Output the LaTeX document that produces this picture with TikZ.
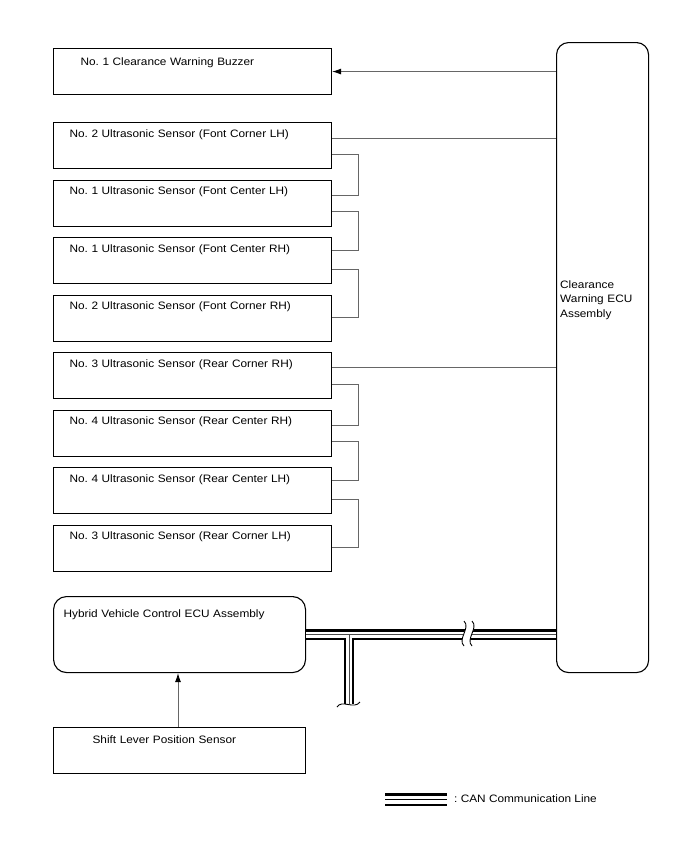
\documentclass[tikz,border=0pt]{standalone}
\usepackage{fontspec}
\setmainfont[FakeStretch=1.1]{Liberation Sans}
\usetikzlibrary{arrows.meta}
\begin{document}
\frenchspacing
\begin{tikzpicture}[x=1pt,y=-1pt,
  font=\fontsize{10.75}{14.5}\selectfont,
  box/.style={draw=black, line width=1.1pt, inner ysep=0pt, align=left, anchor=north west},
  sensor/.style={box, inner xsep=16pt, text width=246pt, text height=14.7pt, text depth=31.3pt},
  conn/.style={draw=black!60, line width=0.9pt},
  arr/.style={conn, -{Latex[length=9pt,width=6pt,color=black]}},
  brk/.style={draw=black, line width=0.9pt},
]
\useasboundingbox (0,0) rectangle (688,852);

% ECU
\node[draw=black, line width=1.1pt, rounded corners=12pt, minimum width=92pt, minimum height=630pt, inner sep=0pt, anchor=north west] (ecu) at (556,42) {};
\node[anchor=base west, inner sep=0pt, text width=84pt, align=left] (ecut) at (560,288) {Clearance\\Warning ECU\\Assembly};

% buzzer
\node[box, inner xsep=27pt, text width=224pt, text height=17pt, text depth=29pt] (buz) at (53,48) {No. 1 Clearance Warning Buzzer};

% sensors
\node[sensor] (b2) at (53,122)   {No. 2 Ultrasonic Sensor (Font Corner LH)};
\node[sensor] (b3) at (53,179.5) {No. 1 Ultrasonic Sensor (Font Center LH)};
\node[sensor] (b4) at (53,237)   {No. 1 Ultrasonic Sensor (Font Center RH)};
\node[sensor] (b5) at (53,294.5) {No. 2 Ultrasonic Sensor (Font Corner RH)};
\node[sensor] (b6) at (53,352)   {No. 3 Ultrasonic Sensor (Rear Corner RH)};
\node[sensor] (b7) at (53,409.5) {No. 4 Ultrasonic Sensor (Rear Center RH)};
\node[sensor] (b8) at (53,467)   {No. 4 Ultrasonic Sensor (Rear Center LH)};
\node[sensor] (b9) at (53,524.5) {No. 3 Ultrasonic Sensor (Rear Corner LH)};

% hybrid + shift
\node[box, rounded corners=13pt, inner xsep=10pt, text width=232pt, text height=21pt, text depth=55pt] (hyb) at (53,596) {Hybrid Vehicle Control ECU Assembly};
\node[box, inner xsep=39pt, text width=174pt, text height=16pt, text depth=30pt] (shift) at (53,727) {Shift Lever Position Sensor};

% connectors
\draw[arr] (buz.east -| ecu.west) -- (buz.east);
\coordinate (p2) at ([yshift=-16pt]b2.north east);
\coordinate (p6) at ([yshift=-15pt]b6.north east);
\draw[conn] (p2) -- (p2 -| ecu.west);
\draw[conn] (p6) -- (p6 -| ecu.west);

\draw[conn] ([yshift=-32pt]b2.north east) -- ++(26,0) |- ([yshift=-16pt]b3.north east);
\draw[conn] ([yshift=-32pt]b3.north east) -- ++(26,0) |- ([yshift=-13pt]b4.north east);
\draw[conn] ([yshift=-32pt]b4.north east) -- ++(26,0) |- ([yshift=-23pt]b5.north east);
\draw[conn] ([yshift=-32pt]b6.north east) -- ++(26,0) |- ([yshift=-16pt]b7.north east);
\draw[conn] ([yshift=-32pt]b7.north east) -- ++(26,0) |- ([yshift=-13pt]b8.north east);
\draw[conn] ([yshift=-32pt]b8.north east) -- ++(26,0) |- ([yshift=-23pt]b9.north east);

\draw[arr] ([xshift=125pt]shift.north west) -- ([xshift=125pt]hyb.south west);

% CAN line
\coordinate (tj) at ([xshift=43pt]hyb.east);
\coordinate (cend) at ([yshift=-69pt]tj);
\foreach \w/\c in {10.5pt/black, 6pt/white, 1pt/black!70} {
  \draw[line width=\w, \c] (hyb.east) -- (hyb.east -| ecu.west) (tj) -- (cend);
}
% break marks
\fill[white] (464,621) .. controls (471,628) and (457,639) .. (464,646) -- (472,646) .. controls (465,639) and (479,628) .. (472,621) -- cycle;
\draw[brk] (464,621) .. controls (471,628) and (457,639) .. (464,646);
\draw[brk] (472,621) .. controls (479,628) and (465,639) .. (472,646);
\draw[brk] (337,707) .. controls (342,699) and (354,710) .. (360,702);

% legend
\foreach \w/\c in {12.7pt/black, 7.6pt/white, 1pt/black} {
  \draw[line width=\w, \c] (385,799.7) -- (447,799.7);
}
\node[anchor=base west, inner sep=0pt] (leg) at (454,802) {: CAN Communication Line};
\end{tikzpicture}
\end{document}
